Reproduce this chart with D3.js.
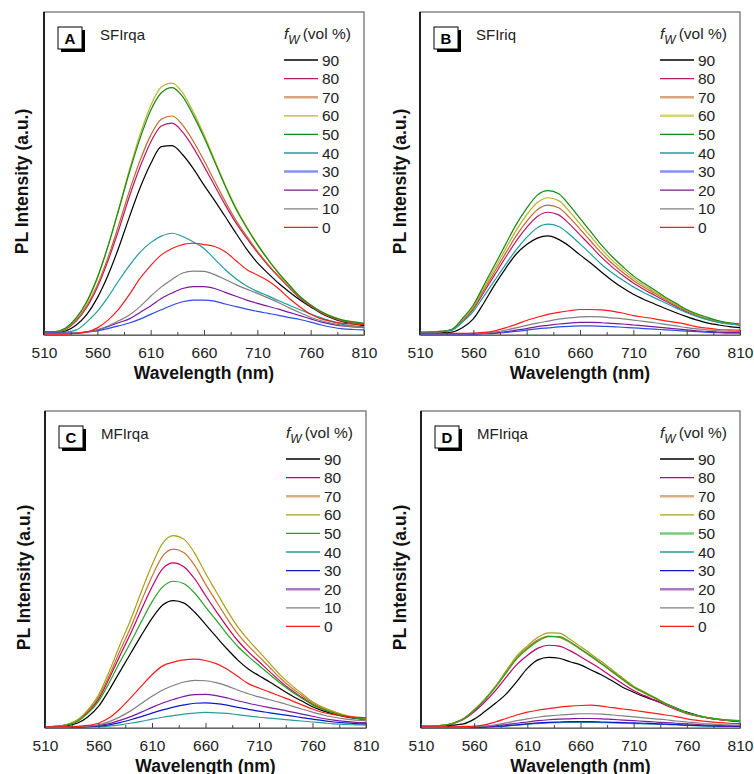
<!DOCTYPE html>
<html>
<head>
<meta charset="utf-8">
<script src="https://cdn.jsdelivr.net/npm/d3@7/dist/d3.min.js"></script>
<style>
  body { margin: 0; background: #fff; }
  text { font-family: Arial, "Liberation Sans", sans-serif; }
</style>
</head>
<body>
<svg id="chart" width="754" height="774"></svg>
<script>
// ---- data (intensity in % of the frame height) ----
var wavelengths = [510,520,530,540,550,560,570,580,590,600,610,620,630,640,650,660,670,680,690,700,710,720,730,740,750,760,770,780,790,800,810];
var waterFractions = [90,80,70,60,50,40,30,20,10,0];
var xTicks = [510,560,610,660,710,760,810];
var xMinorTicks = [535,585,635,685,735,785];

// SFIrqa, one row per water fraction (90 ... 0)
var sfirqa = [
  [0.7,0.7,1.2,3.0,6.3,11.5,18.5,27.0,36.5,45.5,53.0,58.3,58.6,55.8,51.5,46.4,41.6,36.6,31.5,26.6,22.4,19.1,16.0,13.3,10.8,8.7,6.7,5.2,4.1,3.4,2.9],
  [0.8,0.9,1.7,4.2,8.5,14.8,23.0,32.5,42.8,52.0,59.7,64.7,65.6,62.8,58.0,52.2,46.2,40.2,34.7,30.0,25.6,21.6,18.0,14.6,11.4,8.9,6.9,5.4,4.3,3.8,3.3],
  [0.8,0.9,1.8,4.5,9.0,15.5,24.0,34.0,44.5,54.0,61.8,66.8,67.8,65.0,60.0,54.0,47.6,41.3,35.5,30.6,26.0,21.9,18.2,14.8,11.6,9.1,7.0,5.5,4.4,3.9,3.4],
  [1.0,1.0,2.0,5.0,10.0,17.5,27.5,39.0,51.0,62.0,71.0,76.8,78.0,75.0,69.0,62.0,54.2,46.4,39.5,33.5,28.3,23.5,19.3,15.5,11.9,9.3,7.2,5.7,4.6,4.1,3.6],
  [0.9,1.0,2.1,5.2,10.3,17.8,27.5,38.7,50.3,60.8,69.5,75.0,76.6,73.8,68.0,61.2,53.6,46.0,39.0,33.2,28.0,23.3,19.1,15.4,11.9,9.3,7.2,5.7,4.6,4.1,3.6],
  [0.8,0.8,0.9,1.5,4.0,7.3,11.7,16.8,21.5,25.6,28.6,30.6,31.5,30.5,28.8,26.8,23.5,20.2,17.4,15.2,13.5,12.1,10.6,9.2,7.8,6.5,5.3,4.2,3.3,2.8,2.5],
  [1.0,0.8,0.6,0.6,0.9,1.3,2.0,2.8,3.7,4.9,6.4,7.8,9.2,10.3,10.8,10.8,10.5,9.6,8.8,8.0,7.3,6.7,6.1,5.4,4.8,4.0,3.1,2.4,1.9,1.7,1.6],
  [0.5,0.5,0.5,0.6,1.0,1.6,2.6,3.8,5.0,7.0,9.0,11.3,13.0,14.4,15.0,15.0,14.4,13.2,12.0,10.8,9.8,8.9,8.0,7.0,6.0,5.0,4.0,3.3,2.8,2.5,2.4],
  [0.5,0.5,0.5,0.6,0.9,1.6,2.8,4.4,6.2,8.8,12.0,14.9,17.2,19.2,19.8,19.7,18.7,17.2,15.6,14.2,12.9,11.5,10.0,8.4,6.9,5.5,4.4,3.6,3.0,2.6,2.5],
  [0.3,0.3,0.3,0.5,0.9,2.2,4.6,8.0,12.5,17.5,21.5,24.8,26.8,28.0,28.4,28.0,27.4,25.8,23.0,20.3,18.6,16.8,14.3,11.3,8.7,6.4,5.0,4.2,3.6,3.4,3.3]
];

// SFIriq
var sfiriq = [
  [0.6,0.6,0.7,0.9,2.3,5.0,10.0,15.5,20.5,25.0,28.0,30.0,30.7,29.6,27.5,24.8,22.3,19.5,16.9,14.6,12.6,11.0,9.6,8.2,6.9,5.7,4.6,3.7,3.1,2.6,2.3],
  [0.8,0.9,1.1,1.6,4.4,8.0,13.3,18.6,23.9,29.0,33.3,36.7,38.0,37.2,34.4,31.0,27.6,24.1,21.1,18.5,16.1,14.1,12.3,10.5,8.8,7.2,5.9,4.8,4.0,3.5,3.1],
  [0.8,0.9,1.1,1.7,4.7,8.4,14.0,19.6,25.2,30.6,35.2,38.8,40.2,39.4,36.4,32.8,29.1,25.4,22.2,19.4,16.9,14.8,12.9,10.9,9.2,7.5,6.1,5.0,4.2,3.6,3.2],
  [0.8,0.9,1.1,1.7,4.9,8.8,14.7,20.6,26.5,32.3,37.2,41.0,42.5,41.6,38.3,34.4,30.5,26.6,23.2,20.3,17.6,15.4,13.4,11.3,9.5,7.7,6.3,5.2,4.3,3.7,3.3],
  [0.8,0.9,1.1,1.8,5.2,9.3,15.5,21.7,27.9,34.1,39.2,43.3,44.7,43.7,40.2,36.1,32.0,27.9,24.3,21.2,18.3,16.0,13.9,11.7,9.8,7.9,6.5,5.4,4.4,3.8,3.4],
  [0.8,0.9,1.0,1.5,4.0,7.3,12.1,16.9,21.7,26.3,30.2,33.2,34.3,33.6,31.2,28.2,25.1,21.9,19.3,17.0,14.9,13.1,11.5,9.9,8.4,6.9,5.7,4.7,3.9,3.4,3.0],
  [0.3,0.3,0.3,0.3,0.3,0.3,0.4,0.5,0.8,1.1,1.5,1.9,2.2,2.5,2.7,2.8,2.8,2.7,2.6,2.4,2.2,2.0,1.8,1.6,1.4,1.2,1.0,0.8,0.7,0.6,0.6],
  [0.4,0.4,0.4,0.4,0.4,0.4,0.5,0.7,1.0,1.5,2.0,2.6,3.0,3.4,3.7,3.9,3.9,3.8,3.6,3.4,3.1,2.8,2.5,2.2,1.9,1.6,1.3,1.1,0.9,0.8,0.8],
  [0.4,0.4,0.4,0.4,0.4,0.5,0.6,0.9,1.5,2.2,3.0,3.7,4.3,4.9,5.3,5.6,5.7,5.6,5.3,5.0,4.6,4.2,3.8,3.3,2.8,2.3,1.9,1.6,1.3,1.2,1.1],
  [0.5,0.5,0.5,0.5,0.5,0.6,0.8,1.3,2.2,3.3,4.5,5.5,6.4,7.0,7.5,7.9,7.9,7.8,7.4,6.8,6.0,5.5,5.0,4.4,3.9,3.3,2.5,2.1,1.7,1.6,1.5]
];

// MFIrqa
var mfirqa = [
  [0.3,0.4,0.7,1.5,3.5,6.8,12.0,17.8,23.5,29.2,34.6,38.8,40.2,39.4,36.5,32.7,28.8,25.0,21.5,18.6,16.5,14.5,12.4,10.3,8.5,6.7,5.4,4.4,3.6,3.0,2.6],
  [0.4,0.5,1.0,2.2,5.0,9.1,15.6,22.8,29.8,37.3,44.5,50.3,52.1,50.8,47.0,41.8,36.8,32.0,27.6,24.0,20.9,17.8,14.7,12.0,9.7,7.5,5.9,4.8,3.8,3.2,2.7],
  [0.4,0.5,1.0,2.3,5.3,9.7,16.5,24.3,31.7,40.0,47.8,54.2,56.4,55.3,51.2,45.4,40.0,34.6,29.8,25.9,22.5,19.1,15.7,12.8,10.3,7.9,6.2,5.0,4.0,3.3,2.8],
  [0.4,0.5,1.1,2.5,5.7,10.4,17.8,26.2,34.1,43.0,51.4,58.3,60.7,59.5,55.1,48.8,43.0,37.2,32.0,27.8,24.1,20.4,16.7,13.6,10.9,8.3,6.5,5.2,4.1,3.4,2.9],
  [0.4,0.5,0.9,2.0,4.6,8.4,14.3,20.8,27.0,33.5,39.8,44.5,46.3,45.5,42.5,38.2,34.0,29.7,25.8,22.6,19.7,16.9,14.1,11.6,9.4,7.3,5.8,4.7,3.8,3.2,2.7],
  [0.2,0.2,0.2,0.2,0.3,0.4,0.6,1.0,1.5,2.1,2.8,3.4,3.9,4.4,4.7,4.9,4.8,4.6,4.2,3.8,3.4,3.1,2.8,2.5,2.2,1.9,1.6,1.3,1.1,1.0,0.9],
  [0.2,0.2,0.2,0.3,0.4,0.6,1.0,1.7,2.6,3.6,4.7,5.7,6.6,7.3,7.8,7.9,7.7,7.2,6.5,5.9,5.3,4.8,4.3,3.8,3.3,2.8,2.3,1.9,1.6,1.4,1.3],
  [0.3,0.3,0.3,0.4,0.5,0.8,1.4,2.4,3.6,5.0,6.5,7.9,9.0,10.0,10.5,10.6,10.2,9.5,8.6,7.8,7.1,6.4,5.8,5.1,4.4,3.7,3.0,2.5,2.1,1.8,1.7],
  [0.3,0.3,0.3,0.4,0.6,1.0,2.0,3.5,5.4,7.7,10.0,12.0,13.4,14.5,15.0,14.9,14.3,13.3,12.0,10.8,9.8,8.9,8.0,7.0,6.0,5.0,4.1,3.4,2.9,2.5,2.3],
  [0.4,0.4,0.4,0.5,0.8,1.5,3.2,6.0,9.5,13.2,16.8,19.6,20.8,21.5,21.7,21.3,20.3,18.6,16.3,14.0,12.6,11.3,10.0,8.7,7.3,6.0,4.9,4.2,3.7,3.4,3.2]
];

// MFIriqa
var mfiriqa = [
  [0.5,0.5,0.6,0.9,1.3,2.8,5.2,7.8,10.7,14.6,18.8,21.5,22.3,22.0,20.9,19.9,18.3,16.7,14.8,12.8,11.3,9.9,8.7,7.6,6.3,5.0,4.0,3.2,2.7,2.3,2.0],
  [0.6,0.6,0.8,1.4,2.7,5.1,8.2,11.8,16.0,20.0,22.9,25.2,26.1,25.8,24.4,22.5,20.5,18.4,16.1,13.9,11.8,10.2,8.7,7.2,5.8,4.5,3.7,3.1,2.6,2.3,2.1],
  [0.6,0.6,0.8,1.5,3.0,5.7,9.0,13.0,17.6,22.1,25.3,27.8,29.0,28.6,27.0,24.8,22.5,20.1,17.6,15.1,12.8,11.0,9.3,7.6,6.0,4.7,3.8,3.2,2.7,2.4,2.2],
  [0.6,0.6,0.8,1.5,2.9,5.7,9.1,13.2,18.0,22.7,25.9,28.6,30.0,29.9,28.0,25.7,23.3,20.9,18.3,15.7,13.2,11.4,9.6,7.8,6.2,4.8,3.9,3.3,2.8,2.5,2.3],
  [0.6,0.6,0.8,1.5,2.9,5.6,8.9,12.8,17.3,21.8,24.9,27.4,28.8,28.8,27.2,25.0,22.7,20.3,17.8,15.3,12.9,11.2,9.5,7.7,6.1,4.8,3.9,3.3,2.8,2.5,2.3],
  [0.2,0.2,0.2,0.2,0.2,0.2,0.3,0.4,0.6,0.9,1.2,1.4,1.6,1.7,1.8,1.8,1.8,1.7,1.6,1.5,1.4,1.3,1.2,1.1,1.0,0.8,0.7,0.6,0.5,0.5,0.4],
  [0.2,0.2,0.2,0.2,0.2,0.2,0.3,0.5,0.7,1.0,1.3,1.6,1.8,1.9,2.0,2.0,2.0,1.9,1.8,1.7,1.6,1.5,1.4,1.2,1.1,0.9,0.8,0.7,0.6,0.5,0.5],
  [0.3,0.3,0.3,0.3,0.3,0.3,0.5,0.7,1.1,1.5,1.9,2.3,2.6,2.8,2.9,3.0,3.0,2.9,2.7,2.5,2.3,2.1,1.9,1.7,1.5,1.3,1.1,0.9,0.8,0.7,0.7],
  [0.3,0.3,0.3,0.3,0.3,0.4,0.6,1.0,1.6,2.3,2.9,3.4,3.8,4.1,4.3,4.5,4.5,4.4,4.1,3.8,3.5,3.2,2.9,2.6,2.2,1.9,1.6,1.3,1.1,1.0,0.9],
  [0.4,0.4,0.4,0.4,0.5,0.6,1.0,1.9,3.0,4.1,5.0,5.6,6.1,6.6,6.9,7.1,7.2,6.9,6.4,6.0,5.6,5.1,4.6,4.1,3.6,2.9,2.4,2.0,1.7,1.5,1.4]
];

// colours per water fraction (90 ... 0)
var coloursTop = ["#000000","#b8166a","#c26a2c","#bdb22a","#138a13","#1f9c9c","#2e4be0","#7a1a9a","#808080","#ff1a1a"];
var coloursBottom = ["#000000","#c0006b","#c8742e","#aaa012","#22a522","#2a9c9c","#0a1acc","#7a1aa0","#808080","#ff1a1a"];

//=================== PANELS ====================================
var panels = [
  { letter: "A", name: "SFIrqa", data: sfirqa, colours: coloursTop, left: 44, right: 364, top: 12, bottom: 335, labelX: 22, thick: [70, 30] },
  { letter: "B", name: "SFIriq", data: sfiriq, colours: coloursTop, left: 420, right: 740, top: 12, bottom: 335, labelX: 400, thick: [70, 60, 30] },
  { letter: "C", name: "MFIrqa", data: mfirqa, colours: coloursBottom, left: 45, right: 366, top: 411, bottom: 728, labelX: 24, thick: [70, 20] },
  { letter: "D", name: "MFIriqa", data: mfiriqa, colours: coloursBottom, left: 421, right: 740, top: 411, bottom: 728, labelX: 400, thick: [70, 50, 20] }
];

var svg = d3.select("#chart");
svg.append("rect").attr("width", 754).attr("height", 774).attr("fill", "#fff");

panels.forEach(drawPanel);

function drawPanel(p) {
  var x = d3.scaleLinear().domain([510, 810]).range([p.left, p.right]);
  var y = d3.scaleLinear().domain([0, 100]).range([p.bottom, p.top]);
  var g = svg.append("g").attr("class", "panel-" + p.letter);

  // frame
  g.append("rect")
    .attr("x", p.left).attr("y", p.top)
    .attr("width", p.right - p.left).attr("height", p.bottom - p.top)
    .attr("fill", "none").attr("stroke", "#666").attr("stroke-width", 1.2);
  g.append("line")
    .attr("x1", p.left).attr("x2", p.left)
    .attr("y1", p.top).attr("y2", p.bottom)
    .attr("stroke", "#000").attr("stroke-width", 1.6);

  // curves, 90 first so the low ones sit on top
  var line = d3.line()
    .x(function (d, i) { return x(wavelengths[i]); })
    .y(function (d) { return y(d); })
    .curve(d3.curveMonotoneX);

  g.selectAll("path.curve")
    .data(p.data)
    .enter()
    .append("path")
    .attr("class", "curve")
    .attr("d", line)
    .attr("fill", "none")
    .attr("stroke", function (d, i) { return p.colours[i]; })
    .attr("stroke-width", 1.2);

  // x axis: major ticks inward, minor ticks inward
  var axis = d3.axisBottom(x)
    .tickValues(xTicks)
    .tickSizeInner(-5)
    .tickSizeOuter(0)
    .tickPadding(12);
  var ax = g.append("g").attr("transform", "translate(0," + p.bottom + ")").call(axis);
  ax.select(".domain").attr("stroke", "#666").attr("stroke-width", 1.2);
  ax.selectAll(".tick line").attr("stroke", "#444");
  ax.selectAll(".tick text").attr("font-size", "15.5px").attr("fill", "#222")
    .attr("font-family", "Arial, 'Liberation Sans', sans-serif");

  var minor = d3.axisBottom(x).tickValues(xMinorTicks).tickSize(-3).tickFormat("");
  var mx = g.append("g").attr("transform", "translate(0," + p.bottom + ")").call(minor);
  mx.select(".domain").remove();
  mx.selectAll(".tick line").attr("stroke", "#444");

  // axis titles
  g.append("text")
    .attr("x", (p.left + p.right) / 2).attr("y", p.bottom + 44)
    .attr("text-anchor", "middle")
    .attr("font-size", "17.5px").attr("font-weight", "bold").attr("fill", "#111")
    .text("Wavelength (nm)");
  g.append("text")
    .attr("transform", "translate(" + (p.labelX + 6) + "," + ((p.top + p.bottom) / 2 + 8) + ") rotate(-90)")
    .attr("text-anchor", "middle")
    .attr("font-size", "17.5px").attr("font-weight", "bold").attr("fill", "#111")
    .text("PL Intensity (a.u.)");

  // panel letter box with shadow
  var bx = p.left + 14, by = p.top + 15;
  g.append("rect").attr("x", bx + 3).attr("y", by + 3).attr("width", 24).attr("height", 22).attr("fill", "#000");
  g.append("rect").attr("x", bx).attr("y", by).attr("width", 24).attr("height", 22)
    .attr("fill", "#fff").attr("stroke", "#000").attr("stroke-width", 1);
  g.append("text").attr("x", bx + 12).attr("y", by + 16.5)
    .attr("text-anchor", "middle").attr("font-size", "15px").attr("font-weight", "bold")
    .text(p.letter);
  g.append("text").attr("x", p.left + 56).attr("y", p.top + 28)
    .attr("font-size", "15px").attr("fill", "#222")
    .text(p.name);

  // legend
  var lx = p.right - 80;
  var header = g.append("text").attr("x", lx).attr("y", p.top + 27)
    .attr("font-size", "15.5px").attr("fill", "#222");
  header.append("tspan").attr("font-style", "italic").text("f");
  header.append("tspan").attr("font-style", "italic").attr("font-size", "12px").attr("dy", 5).text("W");
  header.append("tspan").attr("dy", -5).attr("dx", 3).text("(vol %)");

  var rows = g.selectAll("g.legend-row")
    .data(waterFractions)
    .enter()
    .append("g")
    .attr("class", "legend-row")
    .attr("transform", function (d, i) { return "translate(" + lx + "," + (p.top + 48 + i * 18.6) + ")"; });
  rows.append("line")
    .attr("x1", 0).attr("x2", 34)
    .attr("stroke", function (d, i) { return p.colours[i]; })
    .attr("stroke-width", function (d) { return p.thick.indexOf(d) >= 0 ? 2.5 : 1.3; })
    .attr("stroke-opacity", function (d) { return p.thick.indexOf(d) >= 0 ? 0.6 : 1; });
  rows.append("text")
    .attr("x", 38).attr("y", 5.5)
    .attr("font-size", "15.5px").attr("fill", "#222")
    .text(function (d) { return d; });
}
</script>
</body>
</html>
